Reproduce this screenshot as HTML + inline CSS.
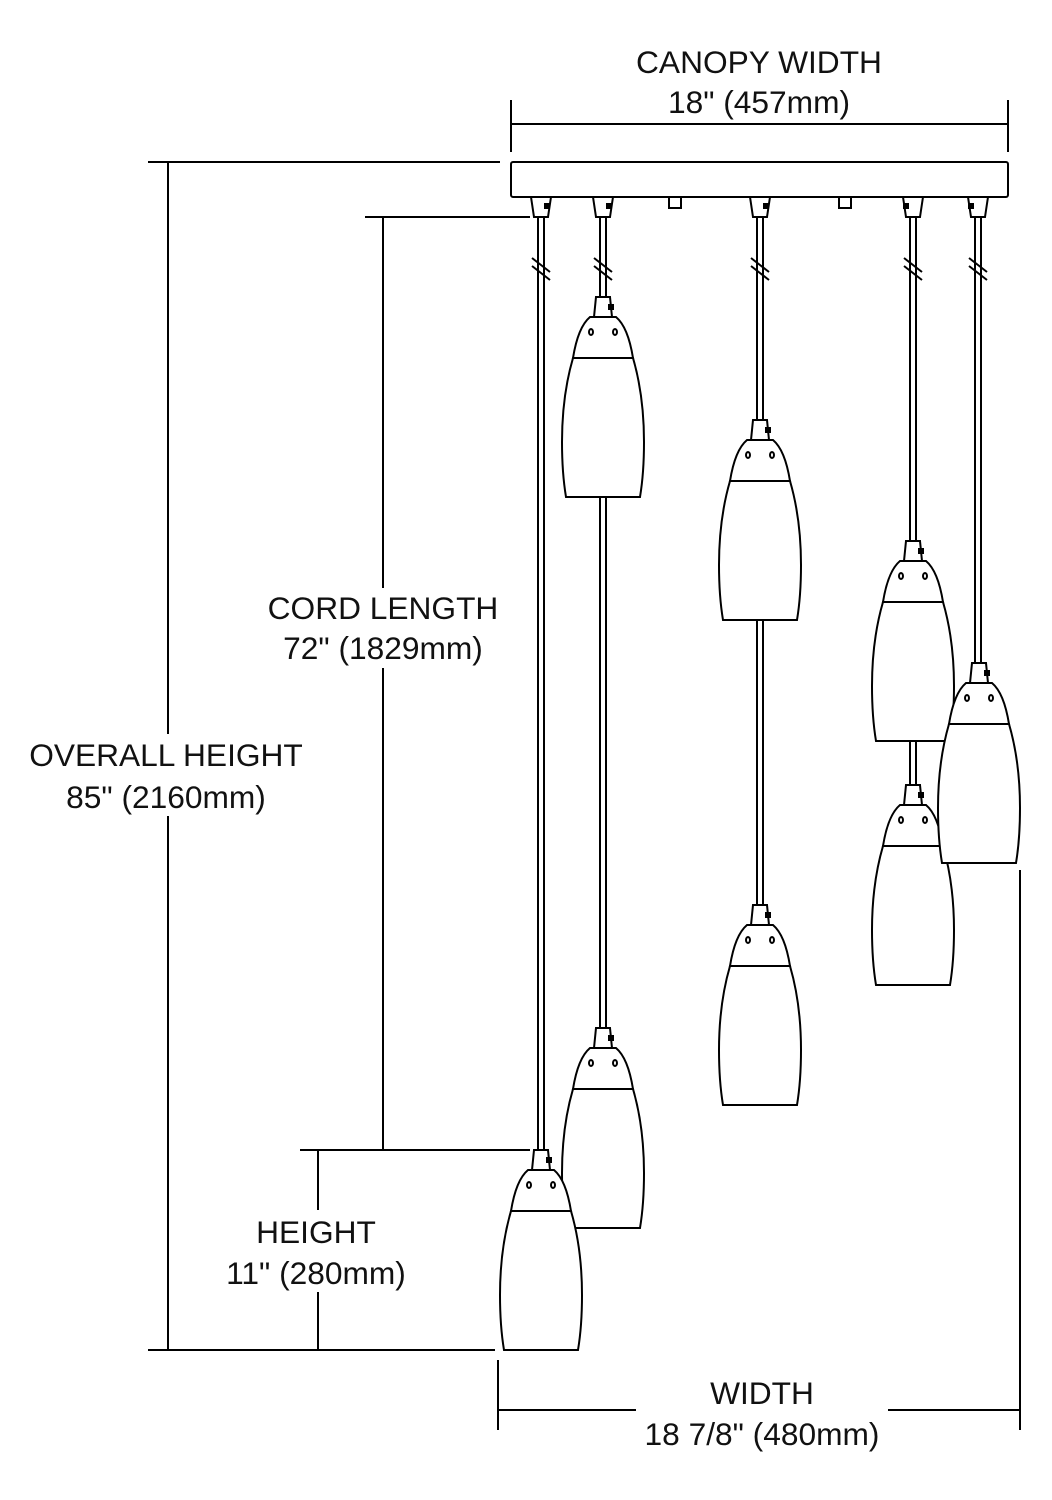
<!DOCTYPE html>
<html><head><meta charset="utf-8"><style>
body{margin:0;background:#fff;width:1052px;height:1500px;overflow:hidden}
svg{display:block}
text{font-family:"Liberation Sans",sans-serif;font-size:31.7px;fill:#111;text-anchor:middle}
</style></head><body>
<svg width="1052" height="1500" viewBox="0 0 1052 1500" xmlns="http://www.w3.org/2000/svg">
<defs>
<g id="p" stroke="#000" stroke-width="2" fill="#fff">
<path d="M-7,0 L7,0 L9,20 L-9,20 Z"/>
<rect x="5" y="7" width="6" height="6" fill="#000" stroke="none"/>
<path d="M-30,61 C-37,85 -41,115 -41,145 C-41,170 -39,188 -37,200 L37,200 C39,188 41,170 41,145 C41,115 37,85 30,61 Z"/>
<path d="M-30,61 Q-25,30 -13,20 L13,20 Q25,30 30,61 Z"/>
<ellipse cx="-12" cy="35" rx="2" ry="3" fill="none"/>
<ellipse cx="12" cy="35" rx="2" ry="3" fill="none"/>
</g>
<g id="h" stroke="#000" stroke-width="2" fill="#fff">
<path d="M-10,0 L10,0 L7,20 L-7,20 Z"/>
</g>
<g id="br" stroke="#000" stroke-width="2">
<line x1="-9" y1="-12" x2="9" y2="2"/><line x1="-9" y1="-4" x2="9" y2="10"/>
</g>
</defs>
<g stroke="#000" stroke-width="2" fill="none">
<line x1="511" y1="100" x2="511" y2="152"/><line x1="1008" y1="100" x2="1008" y2="152"/>
<line x1="511" y1="124" x2="1008" y2="124"/>
<line x1="148" y1="162" x2="500" y2="162"/>
<line x1="148" y1="1350" x2="495" y2="1350"/>
<line x1="168" y1="162" x2="168" y2="1350"/>
<line x1="365" y1="217" x2="530" y2="217"/>
<line x1="300" y1="1150" x2="530" y2="1150"/>
<line x1="383" y1="217" x2="383" y2="1150"/>
<line x1="318" y1="1150" x2="318" y2="1350"/>
<line x1="498" y1="1360" x2="498" y2="1430"/>
<line x1="1020" y1="870" x2="1020" y2="1430"/>
<line x1="498" y1="1410" x2="1020" y2="1410"/>
<rect x="511" y="162" width="497" height="35" rx="2"/>
<rect x="669" y="197" width="12" height="11"/>
<rect x="839" y="197" width="12" height="11"/>
<line x1="538" y1="217" x2="538" y2="1150"/><line x1="544" y1="217" x2="544" y2="1150"/>
<line x1="600" y1="217" x2="600" y2="1028"/><line x1="606" y1="217" x2="606" y2="1028"/>
<line x1="757" y1="217" x2="757" y2="905"/><line x1="763" y1="217" x2="763" y2="905"/>
<line x1="910" y1="217" x2="910" y2="785"/><line x1="916" y1="217" x2="916" y2="785"/>
<line x1="975" y1="217" x2="975" y2="663"/><line x1="981" y1="217" x2="981" y2="663"/>
</g>
<use href="#br" x="541" y="270"/><use href="#br" x="603" y="270"/><use href="#br" x="760" y="270"/><use href="#br" x="913" y="270"/><use href="#br" x="978" y="270"/>
<use href="#h" x="541" y="197"/><use href="#h" x="603" y="197"/><use href="#h" x="760" y="197"/><use href="#h" x="913" y="197"/><use href="#h" x="978" y="197"/>
<g fill="#000"><rect x="544" y="203" width="6" height="6"/><rect x="606" y="203" width="6" height="6"/><rect x="763" y="203" width="6" height="6"/><rect x="903" y="203" width="6" height="6"/><rect x="968" y="203" width="6" height="6"/></g>
<use href="#p" x="603" y="297"/>
<use href="#p" x="760" y="420"/>
<use href="#p" x="913" y="541"/>
<use href="#p" x="913" y="785"/>
<use href="#p" x="979" y="663"/>
<use href="#p" x="760" y="905"/>
<use href="#p" x="603" y="1028"/>
<use href="#p" x="541" y="1150"/>
<g fill="#fff">
<rect x="258" y="588" width="250" height="80"/>
<rect x="18" y="734" width="296" height="82"/>
<rect x="218" y="1210" width="200" height="82"/>
<rect x="636" y="1373" width="252" height="76"/>
</g>
<text x="383" y="619">CORD LENGTH</text>
<text x="383" y="659">72" (1829mm)</text>
<text x="759" y="73">CANOPY WIDTH</text>
<text x="759" y="113">18" (457mm)</text>
<text x="166" y="766">OVERALL HEIGHT</text>
<text x="166" y="808">85" (2160mm)</text>
<text x="316" y="1243">HEIGHT</text>
<text x="316" y="1284">11" (280mm)</text>
<text x="762" y="1404">WIDTH</text>
<text x="762" y="1445">18 7/8" (480mm)</text>
</svg>
</body></html>
